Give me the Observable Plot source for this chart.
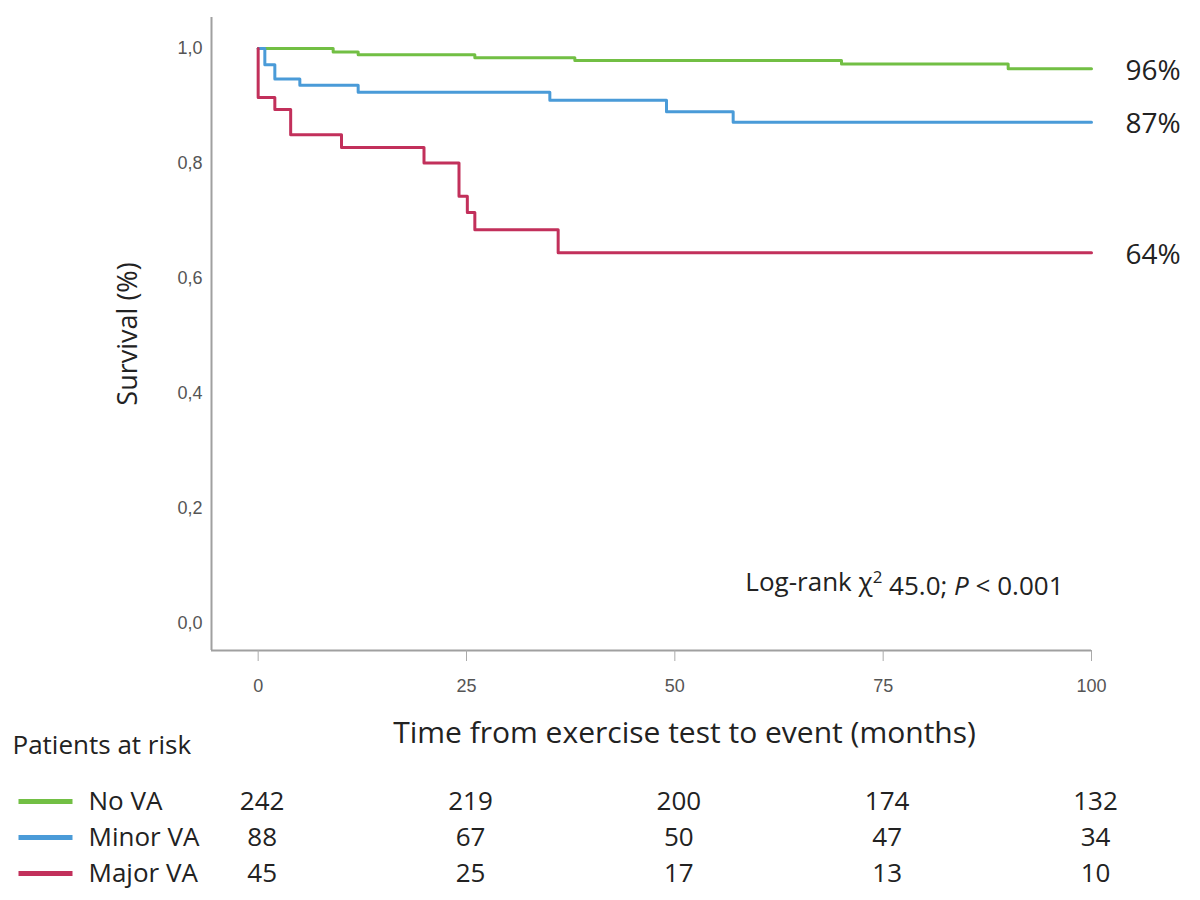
<!DOCTYPE html>
<html><head><meta charset="utf-8">
<script src="https://cdn.jsdelivr.net/npm/d3@7"></script>
<script src="https://cdn.jsdelivr.net/npm/@observablehq/plot@0.6"></script>
<style>
body{margin:0;background:#fff;}
#wrap{position:relative;width:1200px;height:900px;overflow:hidden;background:#fff;}
#main{position:absolute;left:0;top:0;}
#risk{position:absolute;left:0;top:770px;}
</style></head>
<body><div id="wrap"><div id="main"></div><div id="risk"></div></div>
<script>
// ---- data ----
const groups = ["No VA", "Minor VA", "Major VA"];
const colors = ["#72bf44", "#4a9bd8", "#c2305b"];

const noVaTime = [0, 9, 12, 26, 38, 70, 90, 100];
const noVaSurv = [1.0, 0.994, 0.989, 0.984, 0.979, 0.973, 0.965, 0.965];

const minorVaTime = [0, 0.8, 2, 5, 12, 35, 49, 57, 100];
const minorVaSurv = [1.0, 0.972, 0.947, 0.936, 0.924, 0.910, 0.890, 0.872, 0.872];

const majorVaTime = [0, 0, 2, 3.9, 10, 19.9, 24.1, 25.1, 26, 36, 100];
const majorVaSurv = [1.0, 0.915, 0.894, 0.850, 0.828, 0.801, 0.743, 0.715, 0.685, 0.645, 0.645];

const finalLabels = ["96%", "87%", "64%"];

const riskTimes = [0, 25, 50, 75, 100];
const riskNoVa = [242, 219, 200, 174, 132];
const riskMinorVa = [88, 67, 50, 47, 34];
const riskMajorVa = [45, 25, 17, 13, 10];

const xTicks = [0, 25, 50, 75, 100];
const yTicks = [0, 0.2, 0.4, 0.6, 0.8, 1.0];
const xDomain = [-5.6, 100];
const yDomain = [-0.047, 1.054];

const yTitle = "Survival (%)";
const xTitle = "Time from exercise test to event (months)";
const riskTitle = "Patients at risk";
const logRank = "Log-rank χ2 45.0; P < 0.001";

// ---- build tables ----
const series = [
  [noVaTime, noVaSurv],
  [minorVaTime, minorVaSurv],
  [majorVaTime, majorVaSurv]
];
const curves = series.flatMap(([t, s], i) => t.map((tt, j) => ({g: groups[i], t: tt, s: s[j]})));
const finals = series.map(([t, s], i) => ({g: groups[i], t: t[t.length - 1], s: s[s.length - 1], label: finalLabels[i]}));
const riskRows = [riskNoVa, riskMinorVa, riskMajorVa].flatMap((arr, i) =>
  arr.map((n, j) => ({g: groups[i], t: riskTimes[j], n})));

const font = "'Open Sans', sans-serif";
const tickFont = "'Liberation Sans', Arial, sans-serif";
const ink = "#222";

const main = Plot.plot({
  width: 1200, height: 760,
  marginLeft: 211, marginRight: 109, marginTop: 17, marginBottom: 110,
  style: {fontFamily: font, background: "transparent", overflow: "visible"},
  x: {domain: xDomain},
  y: {domain: yDomain},
  color: {domain: groups, range: colors},
  marks: [
    Plot.ruleX([xDomain[0]], {stroke: "#a0a0a0", strokeWidth: 2}),
    Plot.ruleY([yDomain[0]], {stroke: "#a0a0a0", strokeWidth: 2}),
    Plot.axisX(xTicks, {tickSize: 11, tickPadding: 18, stroke: "#aaa", fill: "#555",
      fontSize: 18, fontFamily: tickFont, label: null}),
    Plot.axisY(yTicks, {tickSize: 0, tickPadding: 9, fill: "#555",
      tickFormat: d => d.toFixed(1).replace(".", ","),
      fontSize: 18, fontFamily: tickFont, label: null}),
    Plot.line(curves, {x: "t", y: "s", z: "g", stroke: "g", curve: "step-after", strokeWidth: 3}),
    Plot.text(finals, {x: "t", y: "s", text: "label", dx: 34, dy: 2, textAnchor: "start", fontSize: 28, fill: ink}),
    Plot.text([yTitle], {frameAnchor: "left", dx: -83, rotate: -90, textAnchor: "middle", fontSize: 27, fill: ink}),
    Plot.text([xTitle], {frameAnchor: "bottom", dx: 33, dy: 92, fontSize: 30, fill: ink}),
    Plot.text([riskTitle], {frameAnchor: "bottom-left", dx: -199, dy: 103, textAnchor: "start", fontSize: 26, fill: ink}),
    Plot.text([logRank], {frameAnchor: "bottom-right", dx: -28, dy: -60, textAnchor: "end", fontSize: 26, fill: ink})
  ]
});
document.getElementById("main").appendChild(main);

// rich text for log-rank (superscript 2, italic P)
d3.select(main).selectAll("text").filter(function () { return this.textContent === logRank; })
  .each(function () {
    const t = d3.select(this);
    t.text(null);
    t.append("tspan").text("Log-rank χ");
    t.append("tspan").attr("dy", "-0.45em").attr("font-size", "0.65em").text("2");
    t.append("tspan").attr("dy", "0.45em").text(" 45.0; ");
    t.append("tspan").attr("font-style", "italic").text("P");
    t.append("tspan").text(" < 0.001");
  });

const dash = {draw(ctx) { ctx.moveTo(-27, 0); ctx.lineTo(27, 0); }};

const risk = Plot.plot({
  width: 1200, height: 130,
  marginLeft: 211, marginRight: 109, marginTop: 12, marginBottom: 8,
  style: {fontFamily: font, background: "transparent", overflow: "visible"},
  x: {domain: xDomain, axis: null},
  y: {type: "point", domain: groups, axis: null, padding: 0.5},
  color: {domain: groups, range: colors},
  marks: [
    Plot.dot(groups, {y: d => d, frameAnchor: "left", dx: -166, symbol: dash, fill: "none", stroke: d => d, strokeWidth: 5}),
    Plot.text(groups, {y: d => d, text: d => d, frameAnchor: "left", dx: -123, textAnchor: "start", fontSize: 26, fill: ink}),
    Plot.text(riskRows, {x: "t", y: "g", text: "n", dx: 4, fontSize: 26, fill: ink})
  ]
});
document.getElementById("risk").appendChild(risk);
</script>
</body></html>
